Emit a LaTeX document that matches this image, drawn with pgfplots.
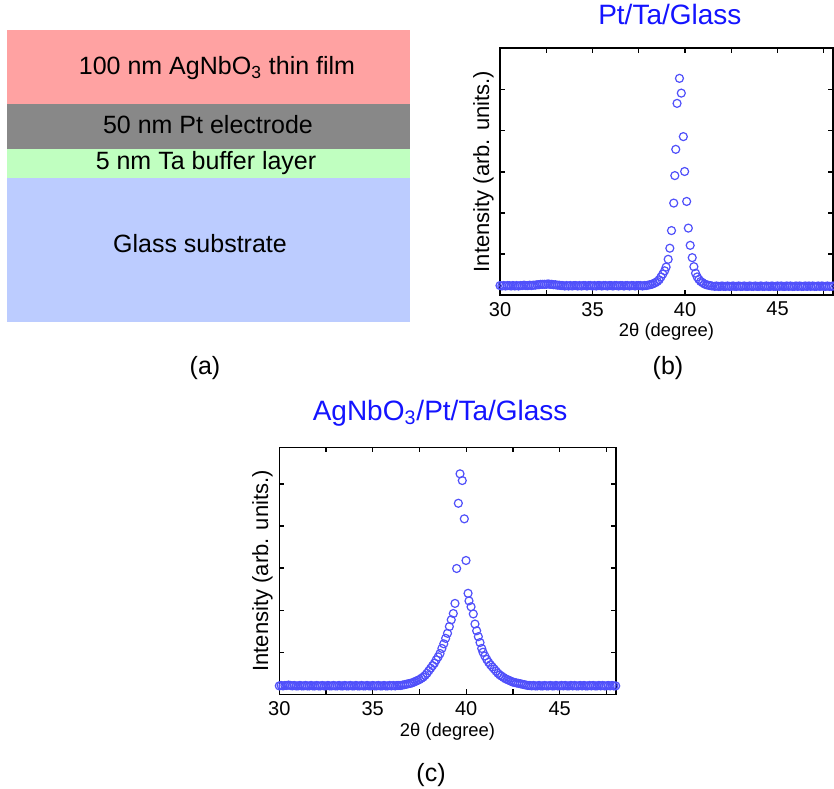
\documentclass[border=0pt]{standalone}
\usepackage{fontspec}
\setmainfont{Liberation Sans}
\usepackage{pgfplots}
\usepackage{pgfplotstable}
\pgfplotsset{compat=1.18}

\definecolor{layerred}{RGB}{255,162,162}
\definecolor{layergray}{RGB}{136,136,136}
\definecolor{layergreen}{RGB}{192,255,192}
\definecolor{layerblue}{RGB}{188,204,255}
\definecolor{markblue}{RGB}{80,80,250}
\definecolor{titleblue}{RGB}{20,20,255}

% (b) Pt/Ta/Glass
\pgfplotstableread{
x y
30.0 0.23
30.1 0.22
30.2 0.23
30.3 0.22
30.4 0.23
30.5 0.23
30.6 0.22
30.7 0.23
30.8 0.22
30.9 0.23
31.0 0.22
31.1 0.23
31.2 0.23
31.3 0.24
31.4 0.23
31.5 0.23
31.6 0.24
31.7 0.23
31.8 0.24
31.9 0.24
32.0 0.25
32.1 0.25
32.2 0.26
32.3 0.26
32.4 0.26
32.5 0.26
32.6 0.27
32.7 0.26
32.8 0.26
32.9 0.25
33.0 0.25
33.1 0.24
33.2 0.24
33.3 0.23
33.4 0.23
33.5 0.22
33.6 0.23
33.7 0.22
33.8 0.23
33.9 0.22
34.0 0.23
34.1 0.23
34.2 0.22
34.3 0.23
34.4 0.22
34.5 0.23
34.6 0.23
34.7 0.22
34.8 0.23
34.9 0.23
35.0 0.22
35.1 0.23
35.2 0.22
35.3 0.23
35.4 0.23
35.5 0.22
35.6 0.23
35.7 0.23
35.8 0.22
35.9 0.23
36.0 0.23
36.1 0.22
36.2 0.23
36.3 0.23
36.4 0.22
36.5 0.23
36.6 0.23
36.7 0.22
36.8 0.23
36.9 0.23
37.0 0.22
37.1 0.23
37.2 0.23
37.3 0.22
37.4 0.23
37.5 0.23
37.6 0.23
37.7 0.22
37.8 0.23
37.9 0.23
38.0 0.24
38.1 0.25
38.2 0.26
38.3 0.28
38.4 0.30
38.5 0.33
38.6 0.37
38.7 0.44
38.8 0.51
38.9 0.59
38.98 0.68
39.09 0.87
39.18 1.14
39.27 1.57
39.39 2.24
39.45 2.91
39.50 3.55
39.57 4.67
39.70 5.28
39.80 4.92
39.91 3.86
39.98 3.01
40.09 2.28
40.18 1.63
40.28 1.21
40.39 0.91
40.48 0.69
40.57 0.53
40.66 0.44
40.75 0.38
40.85 0.33
40.95 0.30
41.05 0.27
41.15 0.25
41.25 0.24
41.35 0.23
41.45 0.22
41.6 0.21
41.7 0.22
41.8 0.21
41.9 0.21
42.0 0.22
42.1 0.21
42.2 0.21
42.3 0.22
42.4 0.21
42.5 0.21
42.6 0.22
42.7 0.21
42.8 0.21
42.9 0.22
43.0 0.21
43.1 0.21
43.2 0.22
43.3 0.21
43.4 0.21
43.5 0.22
43.6 0.21
43.7 0.21
43.8 0.22
43.9 0.21
44.0 0.21
44.1 0.22
44.2 0.21
44.3 0.21
44.4 0.22
44.5 0.21
44.6 0.21
44.7 0.22
44.8 0.21
44.9 0.21
45.0 0.22
45.1 0.21
45.2 0.22
45.3 0.21
45.4 0.21
45.5 0.22
45.6 0.21
45.7 0.22
45.8 0.21
45.9 0.21
46.0 0.22
46.1 0.21
46.2 0.22
46.3 0.21
46.4 0.21
46.5 0.22
46.6 0.21
46.7 0.22
46.8 0.21
46.9 0.22
47.0 0.21
47.1 0.21
47.2 0.22
47.3 0.21
47.4 0.22
47.5 0.21
47.6 0.21
47.7 0.22
47.8 0.21
47.9 0.21
48.0 0.22
}\ptdata

% (c) AgNbO3/Pt/Ta/Glass
\pgfplotstableread{
x y
30.0 0.20
30.1 0.21
30.2 0.20
30.3 0.21
30.4 0.21
30.5 0.22
30.6 0.21
30.7 0.20
30.8 0.21
30.9 0.20
31.0 0.20
31.1 0.21
31.2 0.20
31.3 0.20
31.4 0.21
31.5 0.20
31.6 0.20
31.7 0.21
31.8 0.20
31.9 0.20
32.0 0.21
32.1 0.20
32.2 0.20
32.3 0.21
32.4 0.20
32.5 0.20
32.6 0.21
32.7 0.20
32.8 0.20
32.9 0.21
33.0 0.20
33.1 0.20
33.2 0.21
33.3 0.20
33.4 0.20
33.5 0.21
33.6 0.20
33.7 0.20
33.8 0.21
33.9 0.20
34.0 0.20
34.1 0.21
34.2 0.20
34.3 0.20
34.4 0.21
34.5 0.20
34.6 0.20
34.7 0.21
34.8 0.20
34.9 0.20
35.0 0.21
35.1 0.20
35.2 0.20
35.3 0.21
35.4 0.20
35.5 0.20
35.6 0.21
35.7 0.20
35.8 0.20
35.9 0.21
36.0 0.20
36.1 0.21
36.2 0.20
36.3 0.21
36.4 0.21
36.5 0.21
36.6 0.22
36.7 0.23
36.8 0.24
36.9 0.25
37.0 0.26
37.1 0.27
37.2 0.29
37.3 0.31
37.4 0.33
37.5 0.35
37.6 0.38
37.7 0.41
37.8 0.45
37.9 0.50
38.0 0.56
38.1 0.62
38.2 0.68
38.3 0.74
38.4 0.82
38.5 0.89
38.6 0.97
38.7 1.09
38.8 1.20
38.9 1.33
39.0 1.45
39.1 1.61
39.2 1.77
39.31 1.92
39.40 2.16
39.49 2.99
39.58 4.54
39.67 5.24
39.79 5.08
39.90 4.17
39.99 3.18
40.10 2.40
40.15 2.22
40.26 2.08
40.38 1.91
40.47 1.67
40.56 1.51
40.65 1.37
40.74 1.23
40.83 1.09
40.9 1.00
41.0 0.91
41.1 0.83
41.2 0.76
41.3 0.70
41.4 0.65
41.5 0.60
41.6 0.55
41.7 0.50
41.8 0.46
41.9 0.43
42.0 0.40
42.1 0.37
42.2 0.35
42.3 0.33
42.4 0.31
42.5 0.29
42.6 0.28
42.7 0.27
42.8 0.26
42.9 0.25
43.0 0.24
43.1 0.23
43.2 0.22
43.3 0.21
43.4 0.21
43.5 0.20
43.6 0.21
43.7 0.20
43.8 0.20
43.9 0.21
44.0 0.20
44.1 0.20
44.2 0.21
44.3 0.20
44.4 0.20
44.5 0.21
44.6 0.20
44.7 0.20
44.8 0.21
44.9 0.20
45.0 0.20
45.1 0.21
45.2 0.20
45.3 0.21
45.4 0.20
45.5 0.20
45.6 0.21
45.7 0.20
45.8 0.21
45.9 0.20
46.0 0.20
46.1 0.21
46.2 0.20
46.3 0.21
46.4 0.20
46.5 0.20
46.6 0.21
46.7 0.20
46.8 0.21
46.9 0.20
47.0 0.20
47.1 0.21
47.2 0.20
47.3 0.21
47.4 0.20
47.5 0.20
47.6 0.21
47.7 0.20
47.8 0.21
47.9 0.20
48.0 0.20
}\agdata

\pgfplotsset{
  xrdaxis/.style={
    scale only axis,
    xmin=30, xmax=48, ymin=0,
    xtick={30,35,40,45},
    minor xtick={32.5,37.5,42.5,47.5},
    ytick={1,2,3,4,5},
    yticklabels={},
    tick align=inside,
    major tick length=2.5pt,
    minor tick length=2.5pt,
    every tick/.style={black, line width=0.6pt},
    axis line style={line width=0.8pt},
    /pgf/number format/assume math mode=true,
    ticklabel style={font=\fontsize{10}{11}\selectfont},
    xlabel={2θ (degree)},
    ylabel={Intensity (arb. units.)},
    xlabel style={font=\fontsize{9.2}{10}\selectfont, at={(axis description cs:0.5,-0.15)}, anchor=center},
    ylabel style={font=\fontsize{11}{12}\selectfont, at={(axis description cs:-0.05,0.5)}, anchor=center},
    title style={font=\fontsize{14}{16}\selectfont, text=titleblue, anchor=center},
    clip=false,
  },
  xrdmarks/.style={only marks, mark=o, mark size=2pt, color=markblue, mark options={line width=0.6pt}},
}

\begin{document}
\begin{tikzpicture}
\path[use as bounding box] (0,0) rectangle (417pt,394pt);

% canvas for the layer diagram and panel labels (pixel coordinates)
\begin{axis}[
  at={(0pt,0pt)}, anchor=south west,
  scale only axis, width=417pt, height=394pt,
  xmin=0, xmax=834, ymin=0, ymax=788, y dir=reverse,
  hide axis, clip=false,
]
\addplot[fill=layerblue, draw=none] coordinates {(7.3,178.3) (410,178.3) (410,321.7) (7.3,321.7)};
\addplot[fill=layergreen, draw=none] coordinates {(7.3,148.6) (410,148.6) (410,178.3) (7.3,178.3)};
\addplot[fill=layergray, draw=none] coordinates {(7.3,104.3) (410,104.3) (410,148.6) (7.3,148.6)};
\addplot[fill=layerred, draw=none] coordinates {(7.3,30) (410,30) (410,104.3) (7.3,104.3)};
\node[font=\fontsize{12.5}{14}\selectfont] at (axis cs:217,68) {100 nm AgNbO\textsubscript{3} thin film};
\node[font=\fontsize{12.5}{14}\selectfont] at (axis cs:208,125) {50 nm Pt electrode};
\node[font=\fontsize{12.5}{14}\selectfont] at (axis cs:206,163) {5 nm Ta buffer layer};
\node[font=\fontsize{12.5}{14}\selectfont] at (axis cs:200,244) {Glass substrate};
\node[font=\fontsize{12.5}{14}\selectfont] at (axis cs:205,368) {(a)};
\node[font=\fontsize{12.5}{14}\selectfont] at (axis cs:668,368) {(b)};
\node[font=\fontsize{12.5}{14}\selectfont] at (axis cs:431,775) {(c)};
\end{axis}

% (b)
\begin{axis}[xrdaxis,
  at={(250pt,246.5pt)}, anchor=south west,
  width=166.5pt, height=123.5pt, ymax=6.02,
  title={Pt/Ta/Glass},
  title style={at={(axis description cs:0.51,1.088)}},
]
\addplot[xrdmarks] table[x=x,y=y] {\ptdata};
\end{axis}

% (c)
\begin{axis}[xrdaxis,
  at={(139.65pt,46.85pt)}, anchor=south west,
  width=168.2pt, height=123.5pt, ymax=5.87,
  title={AgNbO\textsubscript{3}/Pt/Ta/Glass},
  title style={at={(axis description cs:0.478,1.09)}},
]
\addplot[xrdmarks] table[x=x,y=y] {\agdata};
\end{axis}
\end{tikzpicture}
\end{document}
